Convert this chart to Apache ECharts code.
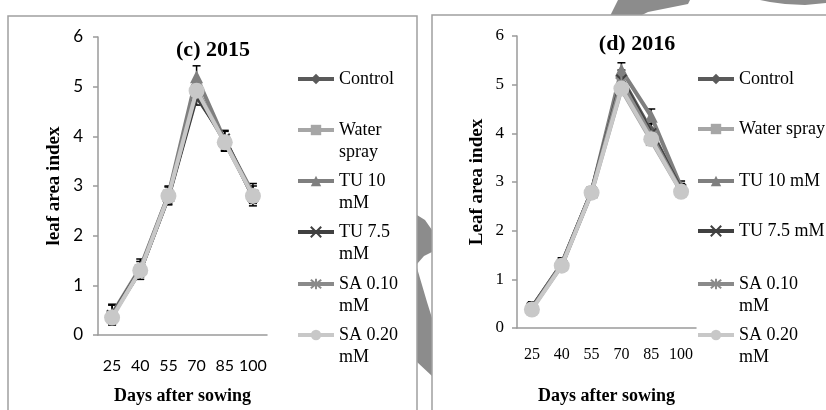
<!DOCTYPE html>
<html>
<head>
<meta charset="utf-8">
<script src="https://cdn.jsdelivr.net/npm/echarts@6/dist/echarts.min.js"></script>
<style>html,body{margin:0;padding:0;background:#fff}#main{width:826px;height:410px}</style>
</head>
<body>
<div id="main"></div>
<script>
// 数据
const days = ['25', '40', '55', '70', '85', '100'];
const seriesNames = ['Control', 'Water spray', 'TU 10 mM', 'TU 7.5 mM', 'SA 0.10 mM', 'SA 0.20 mM'];
const labels2015 = ['Control', 'Water\nspray', 'TU 10\nmM', 'TU 7.5\nmM', 'SA 0.10\nmM', 'SA 0.20\nmM'];
const labels2016 = ['Control', 'Water spray', 'TU 10 mM', 'TU 7.5 mM', 'SA 0.10\nmM', 'SA 0.20\nmM'];

const control2015 = [0.40, 1.30, 2.80, 4.85, 3.90, 2.80];
const water2015 = [0.38, 1.32, 2.82, 4.90, 3.88, 2.82];
const tu10_2015 = [0.42, 1.35, 2.82, 5.20, 3.92, 2.85];
const tu75_2015 = [0.40, 1.30, 2.78, 4.80, 3.95, 2.78];
const sa010_2015 = [0.38, 1.30, 2.80, 4.95, 3.90, 2.82];
const sa020_2015 = [0.35, 1.30, 2.80, 4.92, 3.88, 2.80];
const err2015 = [0.20, 0.18, 0.18, 0.22, 0.20, 0.20];

const control2016 = [0.42, 1.32, 2.80, 5.15, 4.05, 2.85];
const water2016 = [0.40, 1.28, 2.78, 4.90, 3.85, 2.80];
const tu10_2016 = [0.42, 1.32, 2.80, 5.30, 4.35, 2.90];
const tu75_2016 = [0.42, 1.30, 2.80, 5.10, 4.00, 2.85];
const sa010_2016 = [0.40, 1.30, 2.80, 5.05, 3.95, 2.82];
const sa020_2016 = [0.38, 1.28, 2.78, 4.92, 3.88, 2.80];
const err2016 = [0.12, 0.12, 0.10, 0.15, 0.15, 0.12];

const yTicks = [0, 1, 2, 3, 4, 5, 6];

let myChart = echarts.init(document.getElementById('main'));

const serif = 'Liberation Serif';
const cross = 'path://M0,0L10,10M10,0L0,10';
const star = 'path://M0,0L10,10M10,0L0,10M5,-1L5,11';
const looks = [
    { color: '#5a5a5a', symbol: 'diamond', size: 12 },
    { color: '#a6a6a6', symbol: 'rect', size: 11 },
    { color: '#7f7f7f', symbol: 'triangle', size: 13 },
    { color: '#404040', symbol: cross, size: 10, stroke: true },
    { color: '#8a8a8a', symbol: star, size: 11, stroke: true },
    { color: '#c8c8c8', symbol: 'circle', size: 16 }
];

function lines(allData, idx) {
    return allData.map((d, i) => ({
        name: seriesNames[i],
        type: 'line',
        xAxisIndex: idx,
        yAxisIndex: idx,
        data: d,
        symbol: looks[i].symbol,
        symbolSize: looks[i].size,
        lineStyle: { width: 4, color: looks[i].color },
        itemStyle: looks[i].stroke
            ? { color: looks[i].color, borderColor: looks[i].color, borderWidth: 2 }
            : { color: looks[i].color },
        z: 3 + i,
        animation: false
    }));
}

function errBars(vals, errs, idx) {
    return {
        type: 'custom',
        xAxisIndex: idx,
        yAxisIndex: idx,
        z: 2,
        silent: true,
        animation: false,
        data: vals.map((v, i) => [i, v - errs[i], v + errs[i]]),
        encode: { x: 0, y: [1, 2] },
        renderItem: function (params, api) {
            const lo = api.coord([api.value(0), api.value(1)]);
            const hi = api.coord([api.value(0), api.value(2)]);
            const st = { stroke: '#000', lineWidth: 1.5 };
            return {
                type: 'group',
                children: [
                    { type: 'line', shape: { x1: lo[0], y1: lo[1], x2: hi[0], y2: hi[1] }, style: st },
                    { type: 'line', shape: { x1: lo[0] - 4, y1: lo[1], x2: lo[0] + 4, y2: lo[1] }, style: st },
                    { type: 'line', shape: { x1: hi[0] - 4, y1: hi[1], x2: hi[0] + 4, y2: hi[1] }, style: st }
                ]
            };
        }
    };
}

// 两行的图例：前面加一行空白，让图标对齐第一行
function legends(labels, left, ys) {
    return seriesNames.map((n, i) => {
        const two = labels[i].indexOf('\n') >= 0;
        return {
            data: [n],
            left: left,
            top: ys[i] - (two ? 33 : 11),
            padding: 0,
            itemWidth: 36,
            itemHeight: 13,
            itemGap: 0,
            selectedMode: false,
            lineStyle: { width: 4 },
            formatter: () => (two ? '\u00a0\n' : '') + labels[i],
            textStyle: { fontFamily: serif, fontSize: 18, color: '#000', lineHeight: 22 }
        };
    });
}

function xAxis(idx, gap, margin) {
    return {
        type: 'category', gridIndex: idx, data: days,
        name: 'Days after sowing', nameLocation: 'middle', nameGap: gap,
        nameTextStyle: { fontFamily: serif, fontWeight: 'bold', fontSize: 18, color: '#000' },
        axisLine: { lineStyle: { color: '#9a9a9a', width: 1.5 } },
        axisTick: { lineStyle: { color: '#9a9a9a', width: 1.5 }, length: 5 },
        axisLabel: { fontFamily: idx === 0 ? 'Lato' : serif, fontSize: 16, color: '#000', margin: margin, interval: 0 },
        splitLine: { show: false }
    };
}

function yAxis(idx, name, gap, margin) {
    return {
        type: 'value', gridIndex: idx, min: yTicks[0], max: yTicks[yTicks.length - 1], interval: 1,
        name: name, nameLocation: 'middle', nameGap: gap,
        nameTextStyle: { fontFamily: serif, fontWeight: 'bold', fontSize: 19, color: '#000' },
        axisLine: { show: true, lineStyle: { color: '#9a9a9a', width: 1.5 } },
        axisTick: { show: true, lineStyle: { color: '#9a9a9a', width: 1.5 }, length: 5 },
        axisLabel: { fontFamily: idx === 0 ? 'Lato' : serif, fontSize: 17, color: '#000', margin: margin },
        splitLine: { show: false }
    };
}

const mark = '#8c8c8c';
option = {
    backgroundColor: '#fff',
    title: [
        { text: '(c) 2015', left: 208, top: 34, textAlign: 'center',
          textStyle: { fontFamily: serif, fontWeight: 'bold', fontSize: 22, color: '#000' } },
        { text: '(d) 2016', left: 632, top: 28, textAlign: 'center',
          textStyle: { fontFamily: serif, fontWeight: 'bold', fontSize: 22, color: '#000' } }
    ],
    grid: [
        { left: 98, top: 37, width: 169, height: 306 },
        { left: 517, top: 36, width: 179, height: 300 }
    ],
    xAxis: [xAxis(0, 52, 23), xAxis(1, 59, 19)],
    yAxis: [yAxis(0, 'leaf area index', 34, 15), yAxis(1, 'Leaf area index', 30, 13)],
    legend: legends(labels2015, 296, [79, 130, 181, 232, 284, 335])
        .concat(legends(labels2016, 696, [79, 129, 181, 231, 284, 335])),
    graphic: [
        // 背景水印碎片
        { type: 'polygon', z: -20, shape: { points: [[610, 16], [618, 0], [690, 0], [688, 4], [668, 8], [648, 12], [640, 16]] }, style: { fill: mark } },
        { type: 'polygon', z: -20, shape: { points: [[760, 0], [826, 0], [826, 3], [805, 5], [785, 4], [770, 2]] }, style: { fill: mark } },
        { type: 'polygon', z: -20, shape: { points: [[417, 215], [425, 220], [432, 230], [432, 252], [424, 256], [417, 264]] }, style: { fill: mark } },
        { type: 'polygon', z: -20, shape: { points: [[417, 268], [422, 285], [427, 302], [432, 318], [432, 376], [417, 362]] }, style: { fill: mark } },
        // 两个面板边框
        { type: 'rect', z: -10, shape: { x: 8, y: 16, width: 409, height: 420 }, style: { fill: '#fff', stroke: '#a0a0a0', lineWidth: 1.5 } },
        { type: 'rect', z: -10, shape: { x: 432, y: 15, width: 420, height: 420 }, style: { fill: '#fff', stroke: '#a0a0a0', lineWidth: 1.5 } }
    ],
    series: [
        errBars(tu10_2015, err2015, 0),
        errBars(control2015, err2015, 0),
        errBars(tu10_2016, err2016, 1),
        errBars(control2016, err2016, 1)
    ].concat(
        lines([control2015, water2015, tu10_2015, tu75_2015, sa010_2015, sa020_2015], 0),
        lines([control2016, water2016, tu10_2016, tu75_2016, sa010_2016, sa020_2016], 1)
    )
};

myChart.setOption(option);
</script>
</body>
</html>
